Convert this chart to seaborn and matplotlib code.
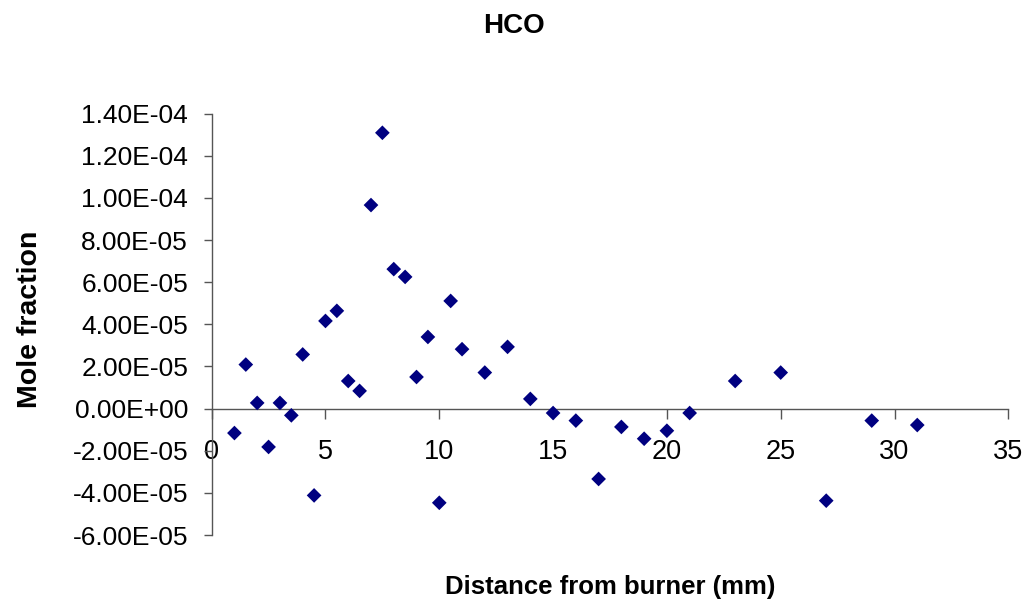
import numpy as np
import pandas as pd
import matplotlib
matplotlib.use("Agg")
import matplotlib.pyplot as plt
import seaborn as sns
from matplotlib.ticker import FuncFormatter

# Values
distance_mm = [1, 1.5, 2, 2.5, 3, 3.5, 4, 4.5, 5, 5.5, 6, 6.5, 7, 7.5, 8, 8.5,
               9, 9.5, 10, 10.5, 11, 12, 13, 14, 15, 16, 17, 18, 19, 20, 21,
               23, 25, 27, 29, 31]
mole_fraction = [-1.16e-5, 2.09e-5, 2.7e-6, -1.82e-5, 2.7e-6, -3.2e-6, 2.57e-5,
                 -4.12e-5, 4.16e-5, 4.64e-5, 1.31e-5, 8.4e-6, 9.66e-5, 1.309e-4,
                 6.62e-5, 6.25e-5, 1.50e-5, 3.40e-5, -4.47e-5, 5.11e-5, 2.82e-5,
                 1.71e-5, 2.93e-5, 4.6e-6, -2.1e-6, -5.7e-6, -3.34e-5, -8.7e-6,
                 -1.43e-5, -1.05e-5, -2.1e-6, 1.31e-5, 1.71e-5, -4.37e-5,
                 -5.7e-6, -7.8e-6]
x_ticks = [0, 5, 10, 15, 20, 25, 30, 35]
y_ticks = [-6e-5, -4e-5, -2e-5, 0, 2e-5, 4e-5, 6e-5, 8e-5, 1e-4, 1.2e-4, 1.4e-4]

df = pd.DataFrame({"distance": distance_mm, "fraction": mole_fraction})

sns.set_style("white")
plt.rcParams["font.family"] = ["Liberation Sans", "DejaVu Sans"]
plt.rcParams["text.color"] = "black"
plt.rcParams["axes.labelcolor"] = "black"

fig = plt.figure(figsize=(10.29, 6.04), dpi=100)
ax = fig.add_axes([0.2057, 0.1142, 0.7742, 0.6977])

sns.scatterplot(data=df, x="distance", y="fraction", marker="D", s=56,
                color="#000080", edgecolor="none", ax=ax, zorder=3)

ax.set_xlim(0, 35)
ax.set_ylim(-6e-5, 1.4e-4)
ax.set_xticks(x_ticks)
ax.set_yticks(y_ticks)
ax.yaxis.set_major_formatter(FuncFormatter(lambda v, p: f"{round(v, 12):.2E}"))

# axes styling like the spreadsheet chart
for side in ["top", "right"]:
    ax.spines[side].set_visible(False)
ax.spines["bottom"].set_position(("data", 0))
for side in ["bottom", "left"]:
    ax.spines[side].set_color("#555555")
    ax.spines[side].set_linewidth(1.0)

ax.tick_params(axis="x", direction="out", length=7, width=1, color="#555555",
               labelcolor="black", labelsize=19.5, pad=15, bottom=True)
ax.tick_params(axis="y", direction="out", length=6, width=1, color="#555555",
               labelcolor="black", labelsize=19, pad=11, left=True)

ax.set_title("HCO", fontsize=20, fontweight="bold", pad=58, x=0.38)
ax.set_xlabel("Distance from burner (mm)", fontsize=18.5, fontweight="bold")
ax.set_ylabel("Mole fraction", fontsize=20.5, fontweight="bold")
ax.xaxis.set_label_coords(0.5, -0.095)
ax.yaxis.set_label_coords(-0.212, 0.513)

fig.savefig("out.png", dpi=100)
